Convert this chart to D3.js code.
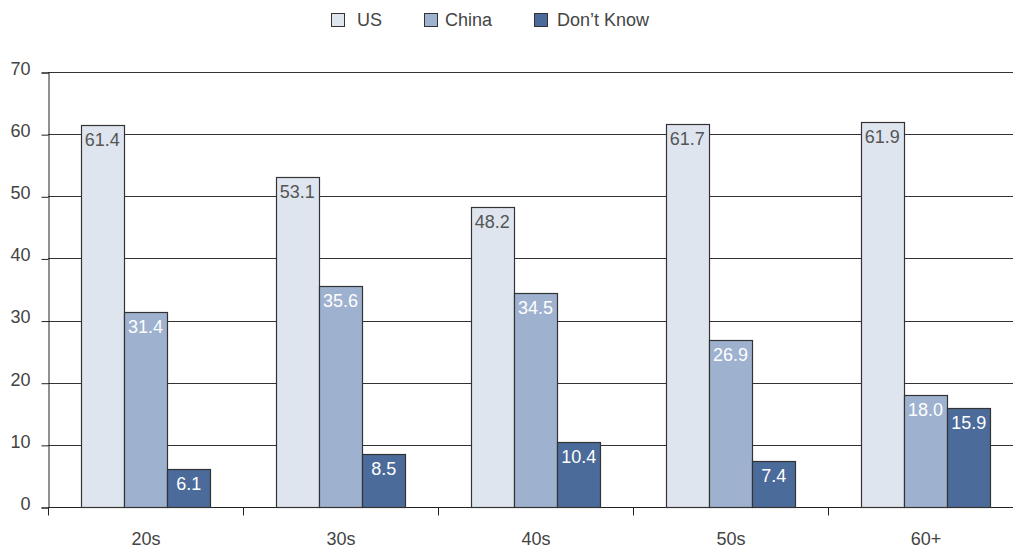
<!DOCTYPE html>
<html>
<head>
<meta charset="utf-8">
<script src="https://cdn.jsdelivr.net/npm/d3@7"></script>
<style>
  body { margin: 0; background: #fff; }
  svg { display: block; font-family: "Liberation Sans", Arial, sans-serif; }
  .axis text { fill: #444; font-size: 18px; }
  .axis line, .axis path { stroke: #222; }
</style>
</head>
<body>
<div id="chart"></div>
<script>
const categories = ['20s', '30s', '40s', '50s', '60+'];
const seriesNames = ['US', 'China', 'Don\u2019t Know'];
const usValues = [61.4, 53.1, 48.2, 61.7, 61.9];
const chinaValues = [31.4, 35.6, 34.5, 26.9, 18.0];
const dontKnowValues = [6.1, 8.5, 10.4, 7.4, 15.9];
const yTicks = [0, 10, 20, 30, 40, 50, 60, 70];

const colors = ['#dfe5ef', '#9eb1cf', '#4b6b9b'];
const labelColors = ['#555', '#fff', '#fff'];

const data = categories.map((c, i) => ({
    category: c,
    values: [usValues[i], chinaValues[i], dontKnowValues[i]]
}));

const width = 1013, height = 549;
const margin = {top: 72, left: 48, bottom: 42};
const plotRight = 1023; // last band runs past the window edge

const svg = d3.select('#chart').append('svg')
    .attr('width', width)
    .attr('height', height);

const x = d3.scaleBand()
    .domain(categories)
    .range([margin.left, plotRight])
    .paddingInner(0)
    .paddingOuter(0);

const xInner = d3.scaleBand()
    .domain(seriesNames)
    .range([0, x.bandwidth()])
    .paddingOuter(0.75);

const y = d3.scaleLinear()
    .domain([0, 70])
    .range([height - margin.bottom, margin.top]);

// gridlines
svg.append('g')
    .selectAll('line')
    .data(yTicks)
    .join('line')
    .attr('x1', margin.left)
    .attr('x2', plotRight)
    .attr('y1', d => Math.round(y(d)) + 0.5)
    .attr('y2', d => Math.round(y(d)) + 0.5)
    .attr('stroke', '#333')
    .attr('stroke-width', 1);

// y axis
const yAxisG = svg.append('g')
    .attr('class', 'axis')
    .attr('transform', `translate(${margin.left + 0.5},0.5)`)
    .call(d3.axisLeft(y).tickValues(yTicks).tickSize(7).tickPadding(11));
yAxisG.selectAll('text').attr('dy', '0.1em');

// x axis
const xAxisG = svg.append('g')
    .attr('class', 'axis')
    .attr('transform', `translate(0.5,${Math.round(y(0)) + 0.5})`)
    .call(d3.axisBottom(x).tickSize(0).tickPadding(25));
xAxisG.select('.domain').remove();
xAxisG.append('line')
    .attr('x1', margin.left).attr('x2', plotRight)
    .attr('stroke', '#222');
xAxisG.selectAll('.bound')
    .data(categories)
    .join('line')
    .attr('class', 'bound')
    .attr('x1', d => Math.round(x(d)))
    .attr('x2', d => Math.round(x(d)))
    .attr('y1', 0).attr('y2', 8)
    .attr('stroke', '#222');

// bars
const groups = svg.append('g')
    .selectAll('g')
    .data(data)
    .join('g')
    .attr('transform', d => `translate(${x(d.category)},0)`);

const bars = groups.selectAll('g')
    .data(d => d.values.map((v, i) => ({name: seriesNames[i], value: v, idx: i})))
    .join('g');

bars.append('rect')
    .attr('x', d => Math.round(xInner(d.name)) + 0.5)
    .attr('y', d => Math.round(y(d.value)) + 0.5)
    .attr('width', Math.round(xInner.bandwidth()))
    .attr('height', d => Math.round(y(0)) - Math.round(y(d.value)))
    .attr('fill', d => colors[d.idx])
    .attr('stroke', '#333')
    .attr('stroke-width', 1.2);

bars.append('text')
    .attr('x', d => xInner(d.name) + xInner.bandwidth() / 2)
    .attr('y', d => y(d.value) + 21)
    .attr('text-anchor', 'middle')
    .attr('font-size', 18)
    .attr('fill', d => labelColors[d.idx])
    .text(d => d.value.toFixed(1));

// legend
const legendItems = [
    {name: seriesNames[0], sx: 331, tx: 357},
    {name: seriesNames[1], sx: 424, tx: 445},
    {name: seriesNames[2], sx: 534, tx: 557}
];
const legend = svg.append('g');
legend.selectAll('rect')
    .data(legendItems)
    .join('rect')
    .attr('x', d => d.sx + 0.5)
    .attr('y', 13.5)
    .attr('width', 13)
    .attr('height', 13)
    .attr('fill', (d, i) => colors[i])
    .attr('stroke', '#333');
legend.selectAll('text')
    .data(legendItems)
    .join('text')
    .attr('x', d => d.tx)
    .attr('y', 26)
    .attr('font-size', 18)
    .attr('fill', '#444')
    .text(d => d.name);
</script>
</body>
</html>
